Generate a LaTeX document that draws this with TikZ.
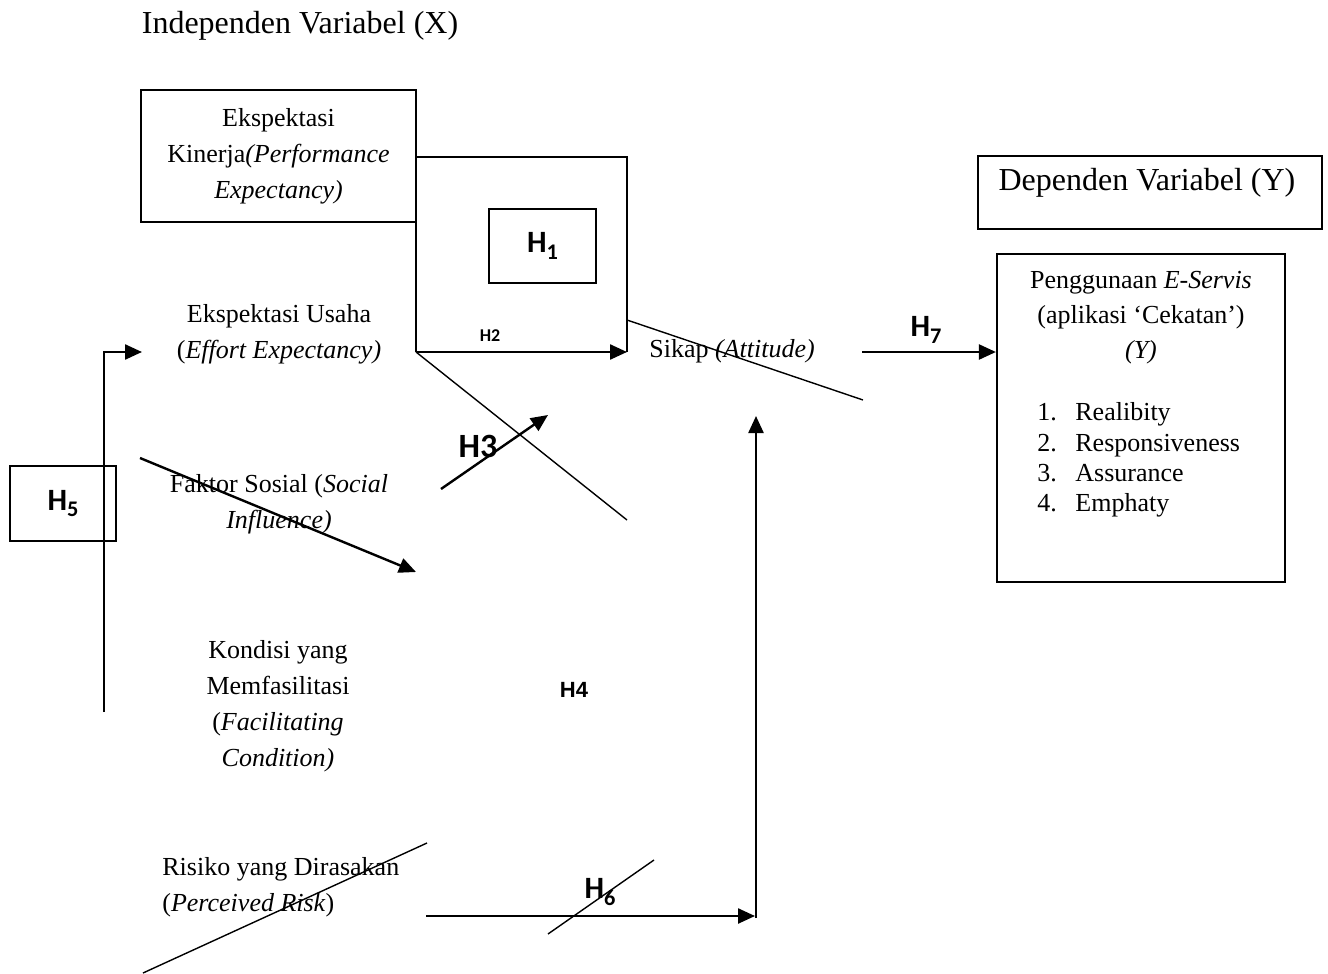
\documentclass[tikz,border=0pt]{standalone}
\usepackage{fontspec}
\setmainfont{Liberation Serif}
\newfontfamily\calfont{Carlito}
\newfontfamily\arfont{Liberation Sans}
\usetikzlibrary{arrows.meta}
\newcommand\hsb[1]{\raisebox{-0.45ex}{\scalebox{0.72}{#1}}}
\begin{document}
\begin{tikzpicture}[x=0.5pt,y=-0.5pt,
  box/.style={draw,line width=1.1pt,inner sep=0pt},
  serif/.style={font=\fontsize{13}{18}\selectfont,align=center,inner sep=0pt},
  big/.style={font=\fontsize{16}{19}\selectfont,inner sep=0pt},
  hlab/.style={font=\calfont\bfseries\fontsize{15.5}{17}\selectfont,inner sep=0pt},
  conn/.style={line width=1.2pt},
  arr/.style={conn,-{Triangle[length=8.5pt,width=7.5pt]}},
  cross/.style={line width=0.7pt}]
\useasboundingbox (0,0) rectangle (1328,974);

% title
\node[big] (tx) at (300,26) {Independen Variabel (X)};

% performance expectancy box
\node[box,serif,minimum width=137.5pt,minimum height=66pt] (pe) at (278.5,156)
  {Ekspektasi\\Kinerja\textit{(Performance}\\\textit{Expectancy)}};

% H1 frame
\coordinate (f1) at (416,352);
\coordinate (f2) at (416,157);
\coordinate (f3) at (627,157);
\coordinate (f4) at (627,352);
\draw[conn] (f1) -- (f2) -- (f3) -- (f4);
\node[box,hlab,minimum width=53.5pt,minimum height=37pt] (h1) at (542.5,246) {H\hsb{1}};
\draw[arr] (f1) -- (f4);
\node[hlab,font=\calfont\bfseries\fontsize{9}{10}\selectfont] (h2) at (490,336) {H2};

% Sikap
\node[serif] (sikap) at (732,351) {Sikap \textit{(Attitude)}};
\coordinate (d1a) at (627,320);
\coordinate (d1b) at (863,400);
\draw[cross] (d1a) -- (d1b);
\coordinate (d2b) at (627,520);
\draw[cross] (f1) -- (d2b);

% dependent variable
\node[box,minimum width=172pt,minimum height=36.5pt] (dv) at (1150,192.5) {};
\node[big] (dvt) at (1147,183) {Dependen Variabel (Y)};

\node[box,minimum width=144pt,minimum height=164pt] (pg) at (1141,418) {};
\node[serif,font=\fontsize{13}{17.5}\selectfont] (pgt) at (1141,318)
  {Penggunaan \textit{E-Servis}\\(aplikasi ‘Cekatan’)\\\textit{(Y)}};
\node[serif,align=left,anchor=west,font=\fontsize{13}{15.2}\selectfont] (pgl) at (1037,460)
  {\makebox[19pt][l]{1.}Realibity\\\makebox[19pt][l]{2.}Responsiveness\\\makebox[19pt][l]{3.}Assurance\\\makebox[19pt][l]{4.}Emphaty};

% H7
\coordinate (h7s) at (862,352);
\draw[arr] (h7s) -- (h7s -| pg.west);
\node[hlab] (h7) at (926,330) {H\hsb{7}};

% H5
\node[box,hlab,minimum width=53pt,minimum height=37.5pt] (h5) at (63,503.5) {H\hsb{5}};
\coordinate (v1) at (104,712);
\coordinate (v2) at (104,352);
\coordinate (v3) at (142,352);
\draw[arr] (v1) -- (v2) -- (v3);

% effort expectancy
\node[serif] (ee) at (279,334) {Ekspektasi Usaha\\(\textit{Effort Expectancy)}};

% social influence
\node[serif] (fs) at (279,504) {Faktor Sosial (\textit{Social}\\\textit{Influence)}};
\coordinate (fsa) at (140,458);
\coordinate (fsb) at (416,572);
\draw[arr] (fsa) -- (fsb);

% H3
\coordinate (h3a) at (441,489);
\coordinate (h3b) at (548,415);
\draw[arr] (h3a) -- (h3b);
\node[hlab,font=\calfont\bfseries\fontsize{17}{19}\selectfont] (h3) at (478,446) {H3};

% facilitating condition
\node[serif] (fc) at (278,706) {Kondisi yang\\Memfasilitasi\\(\textit{Facilitating}\\\textit{Condition)}};
\node[inner sep=0pt,font=\arfont\bfseries\fontsize{11}{12}\selectfont] (h4) at (574,690) {H4};

% perceived risk
\node[serif,align=left,anchor=west] (pr) at (162,887) {Risiko yang Dirasakan\\(\textit{Perceived Risk})};
\coordinate (rsa) at (143,973);
\coordinate (rsb) at (427,843);
\draw[cross] (rsa) -- (rsb);

% H6
\coordinate (h6a) at (426,916);
\coordinate (h6b) at (755,916);
\coordinate (vb) at (756,918);
\coordinate (vt) at (756,416);
\draw[arr] (h6a) -- (h6b);
\draw[arr] (vb) -- (vt);
\coordinate (s6a) at (548,934);
\coordinate (s6b) at (654,860);
\node[hlab] (h6) at (600,892) {H\hsb{6}};
\draw[cross] (s6a) -- (s6b);
\end{tikzpicture}
\end{document}
